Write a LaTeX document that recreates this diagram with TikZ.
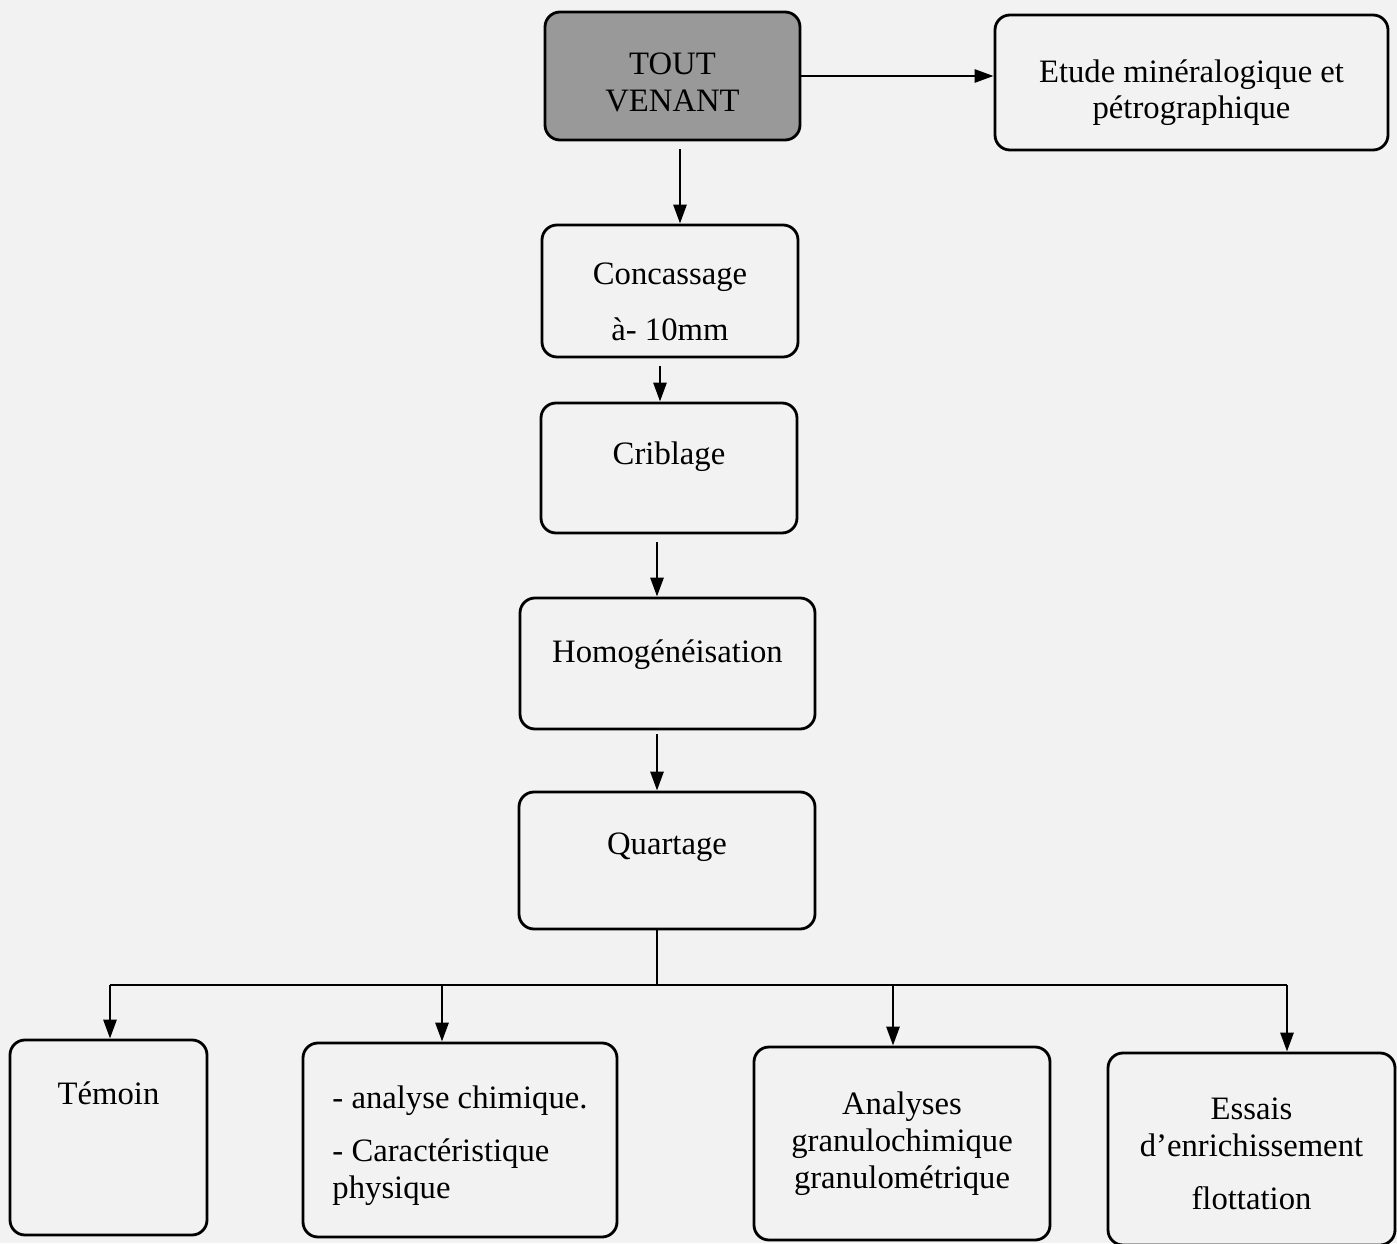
\documentclass[tikz,border=0pt]{standalone}
\usepackage{fontspec}
\setmainfont{Liberation Serif}
\usetikzlibrary{arrows.meta}
\usetikzlibrary{positioning}

\tikzset{
  etape/.style={draw=black,thick,rounded corners=0.15cm,align=center,inner sep=0pt,font=\fontsize{9.3}{10.5}\selectfont},
  haut/.style={text height=0.25cm,text depth=#1},
  fleche/.style={thick,-{Triangle[length=0.19cm,width=0.13cm]}},
  trait/.style={thick}
}
\newcommand{\decale}[1]{\rule{0pt}{#1}}

\begin{document}
\begin{tikzpicture}
\useasboundingbox[fill=black!5] (0,0) rectangle (13.97,12.43);

\node[etape,fill=black!40,minimum width=2.55cm,minimum height=1.28cm] (tout) at (6.725,11.67) {\decale{0.34cm}TOUT\\VENANT};
\node[etape,minimum width=3.93cm,minimum height=1.35cm] (etude) at (11.915,11.605) {\decale{0.43cm}Etude minéralogique et\\pétrographique};
\node[etape,minimum width=2.56cm,minimum height=1.32cm] (conc) at (6.70,9.52) {\decale{0.43cm}Concassage\\[0.19cm]à- 10mm};
\node[etape,haut=0.33cm,minimum width=2.56cm,minimum height=1.30cm] (crib) at (6.69,7.75) {Criblage};
\node[etape,haut=0.27cm,minimum width=2.95cm,minimum height=1.31cm] (homog) at (6.675,5.795) {Homogénéisation};
\node[etape,haut=0.37cm,minimum width=2.96cm,minimum height=1.37cm] (quart) at (6.67,3.825) {Quartage};

\node[etape,haut=0.91cm,minimum width=1.97cm,minimum height=1.95cm] (temoin) at (1.085,1.055) {Témoin};
\node[etape,align=left,minimum width=3.14cm,minimum height=1.94cm] (analyse) at (4.60,1.03) {\decale{0.34cm}- analyse chimique.\\[0.16cm]- Caractéristique\\physique};
\node[etape,minimum width=2.96cm,minimum height=1.93cm] (analyses) at (9.02,0.995) {Analyses\\granulochimique\\granulométrique};
\node[etape,minimum width=2.87cm,minimum height=1.92cm] (essais) at (12.515,0.94) {\decale{0.32cm}Essais\\d’enrichissement\\[0.16cm]flottation};

\draw[fleche] (tout.east) -- (tout.east -| etude.west);
\draw[fleche,shorten <=0.08cm] ([xshift=0.075cm]tout.south) -- ([xshift=0.075cm]tout.south |- conc.north);
\draw[fleche,shorten <=0.08cm] ([xshift=-0.1cm]conc.south) -- ([xshift=-0.1cm]conc.south |- crib.north);
\draw[fleche,shorten <=0.08cm] ([xshift=-0.12cm]crib.south) -- ([xshift=-0.12cm]crib.south |- homog.north);
\draw[fleche,shorten <=0.04cm] ([xshift=-0.105cm]homog.south) -- ([xshift=-0.105cm]homog.south |- quart.north);

\coordinate (noeud) at (6.57,2.58);
\draw[trait] ([xshift=-0.1cm]quart.south) -- ([xshift=-0.1cm]quart.south |- noeud);
\foreach \n/\dx in {temoin/0.015,analyse/-0.18,analyses/-0.09,essais/0.355}{
  \coordinate (\n-h) at ([xshift=\dx cm]\n.north);
  \draw[fleche] (\n-h |- noeud) -- (\n-h);
}
\draw[trait] (temoin-h |- noeud) -- (essais-h |- noeud);

\end{tikzpicture}
\end{document}
